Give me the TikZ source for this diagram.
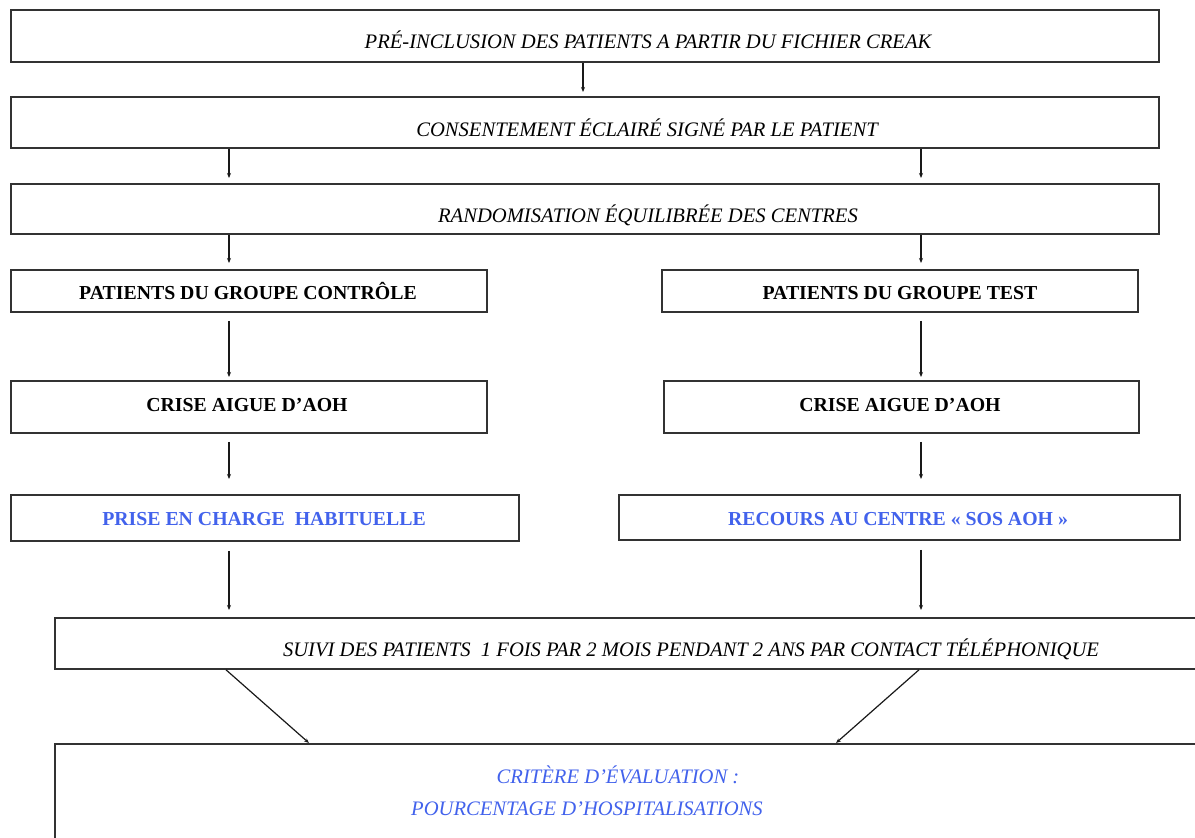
\documentclass[tikz,border=0pt]{standalone}
\usepackage{fontspec}
\setmainfont{Liberation Serif}
\usetikzlibrary{arrows.meta}
\definecolor{bluetxt}{RGB}{66,98,236}
\definecolor{boxline}{RGB}{50,50,50}
\tikzset{
  box/.style={draw=boxline, line width=1.8pt, fill=white, inner sep=0pt, anchor=north west},
  itxt/.style={font=\fontsize{20.6}{24}\selectfont\itshape, inner sep=0pt, anchor=base},
  btxt/.style={font=\fontsize{19.8}{24}\selectfont\bfseries, inner sep=0pt, anchor=base},
  arr/.style={-{Stealth[length=5pt,width=4pt]}, line width=1.2pt, black!90},
}
\begin{document}
\begin{tikzpicture}[x=1pt,y=-1pt]
\useasboundingbox (0,0) rectangle (1195,838);
\clip (0,0) rectangle (1195,838);
% boxes
\node[box, minimum width=1148pt, minimum height=52pt] (b1) at (10,9) {};
\node[box, minimum width=1148pt, minimum height=51pt] (b2) at (10,96) {};
\node[box, minimum width=1148pt, minimum height=50pt] (b3) at (10,183) {};
\node[box, minimum width=476pt, minimum height=42pt] (b4l) at (10,269) {};
\node[box, minimum width=476pt, minimum height=42pt] (b4r) at (661,269) {};
\node[box, minimum width=476pt, minimum height=52pt] (b5l) at (10,380) {};
\node[box, minimum width=475pt, minimum height=52pt] (b5r) at (663,380) {};
\node[box, minimum width=508pt, minimum height=46pt] (b6l) at (10,494) {};
\node[box, minimum width=561pt, minimum height=45pt] (b6r) at (618,494) {};
\node[box, minimum width=1200pt, minimum height=51pt] (b7) at (54,617) {};
\node[box, minimum width=1200pt, minimum height=150pt] (b8) at (54,743) {};
% texts
\node[itxt] (t1) at (648,48) {PRÉ-INCLUSION DES PATIENTS A PARTIR DU FICHIER CREAK};
\node[itxt] (t2) at (647,136) {CONSENTEMENT ÉCLAIRÉ SIGNÉ PAR LE PATIENT};
\node[itxt] (t3) at (648,222) {RANDOMISATION ÉQUILIBRÉE DES CENTRES};
\node[btxt] (t4l) at (248,299) {PATIENTS DU GROUPE CONTRÔLE};
\node[btxt] (t4r) at (900,299) {PATIENTS DU GROUPE TEST};
\node[btxt] (t5l) at (247,411) {CRISE AIGUE D’AOH};
\node[btxt] (t5r) at (900,411) {CRISE AIGUE D’AOH};
\node[btxt, text=bluetxt] (t6l) at (264,525) {PRISE EN CHARGE\ \ HABITUELLE};
\node[btxt, text=bluetxt] (t6r) at (898,525) {RECOURS AU CENTRE « SOS AOH »};
\node[itxt] (t7) at (691,656) {SUIVI DES PATIENTS\ \ 1 FOIS PAR 2 MOIS PENDANT 2 ANS PAR CONTACT TÉLÉPHONIQUE};
\node[itxt, text=bluetxt] (t8a) at (618,783) {CRITÈRE D’ÉVALUATION :};
\node[itxt, text=bluetxt] (t8b) at (587,815) {POURCENTAGE D’HOSPITALISATIONS};
% columns
\coordinate (cm) at (583,0);
\coordinate (cl) at (229,0);
\coordinate (cr) at (921,0);
\coordinate (dl1) at (226,0);
\coordinate (dl2) at (309,0);
\coordinate (dr1) at (919,0);
\coordinate (dr2) at (836,0);
% arrows
\draw[arr, shorten >=4pt] (b1.south -| cm) -- (b2.north -| cm);
\draw[arr, shorten >=5pt] (b2.south -| cl) -- (b3.north -| cl);
\draw[arr, shorten >=5pt] (b2.south -| cr) -- (b3.north -| cr);
\draw[arr, shorten >=6pt] (b3.south -| cl) -- (b4l.north -| cl);
\draw[arr, shorten >=6pt] (b3.south -| cr) -- (b4r.north -| cr);
\draw[arr, shorten <=8pt, shorten >=3pt] (b4l.south -| cl) -- (b5l.north -| cl);
\draw[arr, shorten <=8pt, shorten >=3pt] (b4r.south -| cr) -- (b5r.north -| cr);
\draw[arr, shorten <=8pt, shorten >=15pt] (b5l.south -| cl) -- (b6l.north -| cl);
\draw[arr, shorten <=8pt, shorten >=15pt] (b5r.south -| cr) -- (b6r.north -| cr);
\draw[arr, shorten <=9pt, shorten >=7pt] (b6l.south -| cl) -- (b7.north -| cl);
\draw[arr, shorten <=9pt, shorten >=7pt] (b6r.south -| cr) -- (b7.north -| cr);
\draw[arr] (b7.south -| dl1) -- (b8.north -| dl2);
\draw[arr] (b7.south -| dr1) -- (b8.north -| dr2);
\end{tikzpicture}
\end{document}
